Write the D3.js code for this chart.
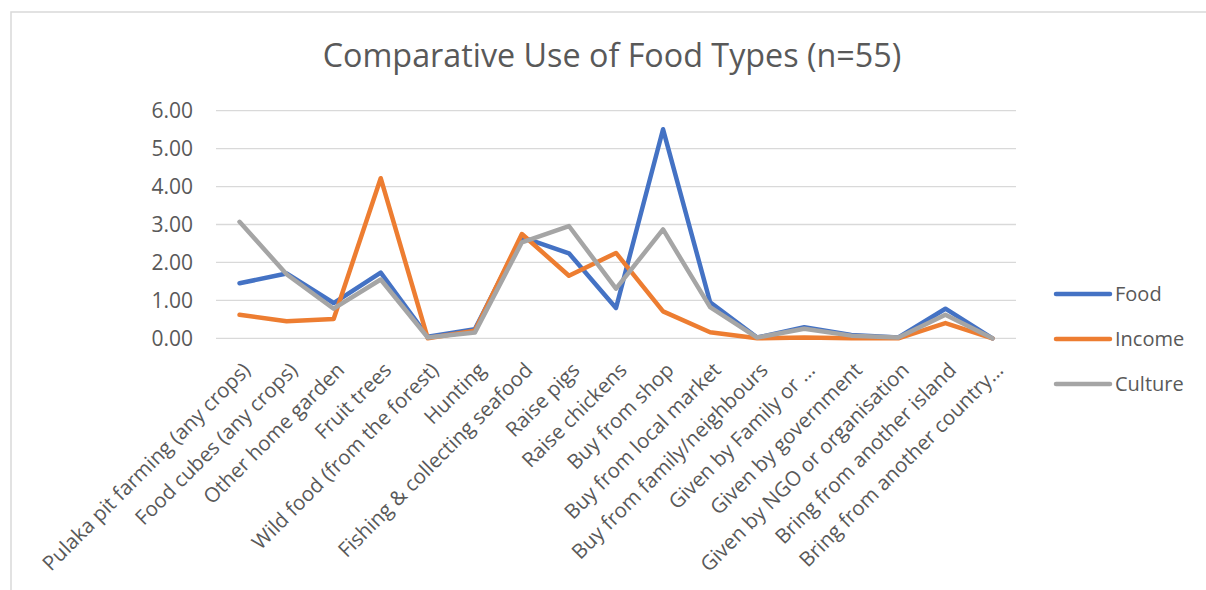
<!DOCTYPE html>
<html>
<head>
<meta charset="utf-8">
<script src="https://cdn.jsdelivr.net/npm/d3@7"></script>
<style>
  html, body { margin: 0; padding: 0; background: #fff; }
  svg { display: block; font-family: "Open Sans", sans-serif; }
</style>
</head>
<body>
<svg id="chart" width="1206" height="590"></svg>
<script>
// Food source categories along the x axis
const categories = [
  "Pulaka pit farming (any crops)",
  "Food cubes (any crops)",
  "Other home garden",
  "Fruit trees",
  "Wild food (from the forest)",
  "Hunting",
  "Fishing & collecting seafood",
  "Raise pigs",
  "Raise chickens",
  "Buy from shop",
  "Buy from local market",
  "Buy from family/neighbours",
  "Given by Family or …",
  "Given by government",
  "Given by NGO or organisation",
  "Bring from another island",
  "Bring from another country…"
];

// Mean scores per category for each use
const foodValues    = [1.45, 1.71, 0.93, 1.73, 0.04, 0.24, 2.67, 2.24, 0.80, 5.51, 0.95, 0.02, 0.29, 0.09, 0.02, 0.78, 0.00];
const incomeValues  = [0.62, 0.45, 0.51, 4.22, 0.00, 0.20, 2.75, 1.65, 2.25, 0.71, 0.16, 0.00, 0.02, 0.00, 0.00, 0.40, 0.00];
const cultureValues = [3.07, 1.69, 0.78, 1.55, 0.02, 0.15, 2.53, 2.96, 1.31, 2.87, 0.82, 0.02, 0.25, 0.07, 0.02, 0.62, 0.00];

const yTicks = [0, 1, 2, 3, 4, 5, 6];

const seriesNames  = ["Food", "Income", "Culture"];
const seriesColors = ["#4472C4", "#ED7D31", "#A5A5A5"];
const series = [foodValues, incomeValues, cultureValues].map((values, i) => ({
  name: seriesNames[i], color: seriesColors[i], values
}));

const svg = d3.select("#chart");
const textColor = "#595959";
const gridColor = "#D9D9D9";

// Chart area border
svg.append("rect")
  .attr("x", 11).attr("y", 12)
  .attr("width", 1206).attr("height", 600)
  .attr("fill", "none")
  .attr("stroke", gridColor)
  .attr("stroke-width", 1.5);

// Title
svg.append("text")
  .attr("x", 612).attr("y", 67)
  .attr("text-anchor", "middle")
  .attr("fill", textColor)
  .attr("font-size", 32.3)
  .text("Comparative Use of Food Types (n=55)");

const plot = { left: 216, right: 1016, top: 110.7, bottom: 338.3 };

const x = d3.scaleBand()
  .domain(categories)
  .range([plot.left, plot.right]);

const y = d3.scaleLinear()
  .domain([0, 6])
  .range([plot.bottom, plot.top]);

// Horizontal gridlines
svg.append("g")
  .selectAll("line")
  .data(yTicks)
  .join("line")
  .attr("x1", plot.left).attr("x2", plot.right)
  .attr("y1", d => y(d)).attr("y2", d => y(d))
  .attr("stroke", gridColor)
  .attr("stroke-width", 1.3);

// Y axis labels
const yAxis = d3.axisLeft(y)
  .tickValues(yTicks)
  .tickFormat(d3.format(".2f"))
  .tickSize(0)
  .tickPadding(23);

svg.append("g")
  .attr("transform", `translate(${plot.left},0)`)
  .call(yAxis)
  .call(g => g.select(".domain").remove())
  .call(g => g.selectAll("text")
    .attr("fill", textColor)
    .attr("font-size", 21)
    .attr("font-family", "Open Sans, sans-serif"));

// X axis labels, rotated
const xAxis = d3.axisBottom(x).tickSize(0).tickPadding(0);
svg.append("g")
  .attr("transform", `translate(0,${plot.bottom})`)
  .call(xAxis)
  .call(g => g.select(".domain").remove())
  .call(g => g.selectAll("text")
    .attr("fill", textColor)
    .attr("font-size", 20.5)
    .attr("font-family", "Open Sans, sans-serif")
    .attr("text-anchor", "end")
    .attr("dy", "0.35em")
    .attr("transform", "translate(7,28) rotate(-45)"));

// Series lines
const line = d3.line()
  .x((d, i) => x(categories[i]) + x.bandwidth() / 2)
  .y(d => y(d));

svg.append("g")
  .selectAll("path")
  .data(series)
  .join("path")
  .attr("d", d => line(d.values))
  .attr("fill", "none")
  .attr("stroke", d => d.color)
  .attr("stroke-width", 4.5)
  .attr("stroke-linejoin", "round")
  .attr("stroke-linecap", "round");

// Legend
const legend = svg.append("g")
  .selectAll("g")
  .data(series)
  .join("g")
  .attr("transform", (d, i) => `translate(1056,${294 + i * 45})`);

legend.append("line")
  .attr("x1", 0).attr("x2", 54)
  .attr("stroke", d => d.color)
  .attr("stroke-width", 4.5)
  .attr("stroke-linecap", "round");

legend.append("text")
  .attr("x", 59)
  .attr("dy", "0.35em")
  .attr("fill", textColor)
  .attr("font-size", 20)
  .text(d => d.name);
</script>
</body>
</html>
